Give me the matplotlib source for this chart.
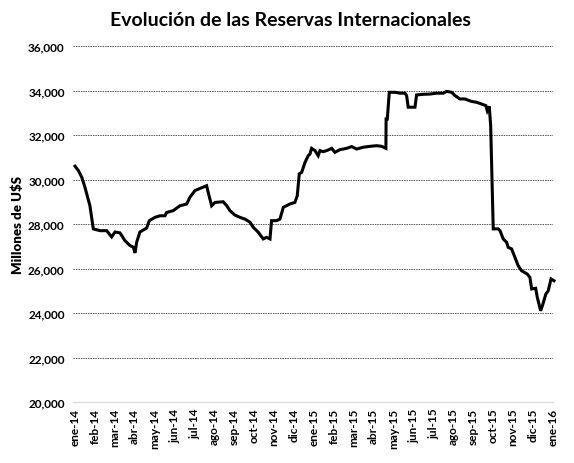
import matplotlib
matplotlib.use("Agg")
import matplotlib.pyplot as plt

plt.rcParams['font.family'] = ['Lato', 'DejaVu Sans']

month_labels = ["ene-14", "feb-14", "mar-14", "abr-14", "may-14", "jun-14", "jul-14",
                "ago-14", "sep-14", "oct-14", "nov-14", "dic-14", "ene-15", "feb-15",
                "mar-15", "abr-15", "may-15", "jun-15", "jul-15", "ago-15", "sep-15",
                "oct-15", "nov-15", "dic-15", "ene-16"]

# time in months since Jan 2014
months = [0.00, 0.17, 0.34, 0.50, 0.75, 0.92, 1.26, 1.59, 1.84, 2.01, 2.26, 2.51, 2.76,
          2.93, 3.01, 3.10, 3.26, 3.60, 3.73, 4.02, 4.27, 4.52, 4.60, 4.93, 5.27, 5.61,
          5.77, 6.02, 6.28, 6.61, 6.69, 6.86, 7.03, 7.44, 7.62, 7.78, 8.03, 8.28, 8.53,
          8.79, 8.95, 9.20, 9.45, 9.62, 9.79, 9.87, 10.12, 10.29, 10.46, 10.79, 11.04,
          11.16, 11.26, 11.38, 11.55, 11.71, 11.80, 11.88, 12.05, 12.21, 12.30, 12.46,
          12.64, 12.89, 13.05, 13.30, 13.64, 13.89, 14.14, 14.47, 14.81, 15.15, 15.40,
          15.61, 15.62, 15.68, 15.78, 16.06, 16.32, 16.57, 16.65, 16.73, 17.07, 17.15,
          17.48, 17.82, 18.16, 18.49, 18.66, 18.91, 19.08, 19.33, 19.58, 19.66, 19.91,
          20.17, 20.42, 20.63, 20.70, 20.80, 20.87, 21.00, 21.25, 21.34, 21.50, 21.67,
          21.75, 21.92, 22.09, 22.25, 22.42, 22.71, 22.84, 22.93, 23.13, 23.21, 23.38,
          23.48, 23.64, 23.76, 23.90, 24.05]

reserves = [30600, 30400, 30100, 29650, 28820, 27780, 27700, 27700, 27420, 27640, 27600,
            27250, 27030, 26960, 26700, 27190, 27640, 27820, 28150, 28300, 28370, 28370,
            28520, 28600, 28820, 28900, 29200, 29500, 29600, 29720, 29420, 28820, 28970,
            29000, 28820, 28600, 28400, 28300, 28220, 28080, 27850, 27630, 27330, 27400,
            27330, 28150, 28150, 28220, 28750, 28900, 28970, 29270, 30250, 30320, 30770,
            31070, 31150, 31400, 31300, 31070, 31300, 31250, 31300, 31400, 31220, 31340,
            31400, 31480, 31370, 31450, 31490, 31520, 31490, 31400, 32720, 32720, 33920,
            33920, 33880, 33880, 33770, 33250, 33250, 33800, 33830, 33840, 33880, 33880,
            33960, 33920, 33770, 33620, 33620, 33590, 33510, 33470, 33390, 33320, 33090,
            33290, 32420, 27780, 27780, 27700, 27330, 27180, 26950, 26880, 26500, 26130,
            25900, 25750, 25600, 25080, 25110, 24710, 24100, 24360, 24850, 25000, 25530,
            25450]

y_ticks = [20000, 22000, 24000, 26000, 28000, 30000, 32000, 34000, 36000]

fig = plt.figure(figsize=(5.74, 4.64), dpi=100)
ax = fig.add_axes([73/574, 1 - 403/464, (553 - 73)/574, (403 - 47)/464])

ax.plot(months, reserves, color='black', lw=2.2, solid_joinstyle='miter', clip_on=False, zorder=3)

ax.set_xlim(-0.1, 24)
ax.set_ylim(20000, 36000)
ax.set_yticks(y_ticks)
ax.set_yticklabels([f"{v:,}" for v in y_ticks], fontsize=8.5, fontweight='bold')
ax.set_xticks(range(len(month_labels)))
ax.set_xticklabels(month_labels, rotation=90, fontsize=8.5, fontweight='bold')
ax.tick_params(length=0, pad=6)
ax.tick_params(axis='x', pad=4)

for v in y_ticks[1:]:
    ax.axhline(v, color='#555555', lw=0.7, ls=(0, (1.5, 1)), zorder=1)

for s in ['top', 'right', 'left']:
    ax.spines[s].set_visible(False)
ax.spines['bottom'].set_color('#d9d9d9')
ax.spines['bottom'].set_linewidth(0.8)

ax.set_ylabel("Millones de U$S", fontsize=9.5, fontweight='heavy', labelpad=3)
fig.text(290/574, 1 - 20/464, "Evolución de las Reservas Internacionales",
         ha='center', va='center', fontsize=14, fontweight='bold')

fig.savefig("out.png", dpi=100)
